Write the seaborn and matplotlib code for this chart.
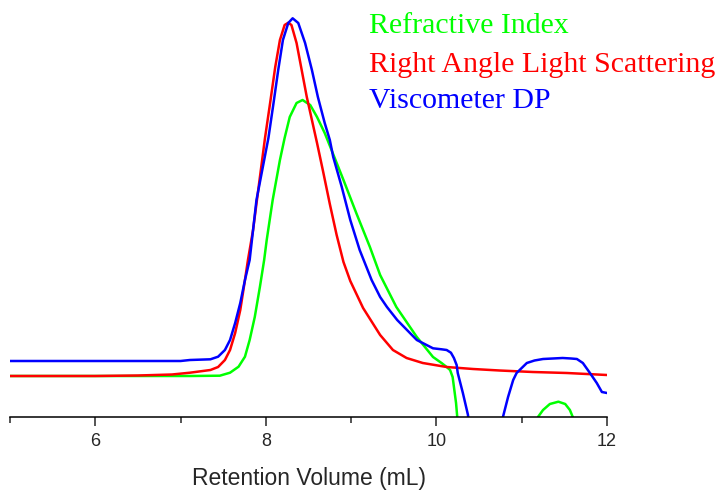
import numpy as np
import pandas as pd
import seaborn as sns
import matplotlib.pyplot as plt

# Retention volume (mL) and detector response (arbitrary units)
ri_x = [5.0, 6.5, 7.0, 7.11, 7.46, 7.58, 7.68, 7.755, 7.81, 7.87, 7.93, 7.98, 8.01,
        8.08, 8.165, 8.22, 8.28, 8.36, 8.43, 8.52, 8.6, 8.69, 8.77, 8.91, 9.06,
        9.22, 9.34, 9.53, 9.77, 9.96, 10.06, 10.12, 10.16, 10.19, 10.21, 10.23,
        10.244, 10.28, 10.6, 11.0, 11.15, 11.193, 11.25, 11.33, 11.43, 11.51,
        11.565, 11.597, 11.65, 12.0]
ri_y = [41, 41, 41, 41, 41.3, 44.3, 50.3, 60.3, 77, 100, 130, 157, 177,
        217, 257, 279, 300, 314, 317, 312, 300, 284, 267, 237, 204,
        170, 142, 110, 80, 60, 54, 50, 47, 40, 27, 14,
        0, -50, -90, -80, -12, 0.3, 7, 13, 15.3, 13,
        7, 0.3, -12, -60]

rals_x = [5.0, 6.0, 6.5, 6.9, 7.11, 7.35, 7.44, 7.52, 7.58, 7.64, 7.7, 7.755, 7.79,
          7.85, 7.9, 7.99, 8.05, 8.11, 8.165, 8.22, 8.263, 8.3, 8.36, 8.42, 8.48,
          8.54, 8.6, 8.67, 8.75, 8.83, 8.91, 8.99, 9.14, 9.34, 9.49, 9.65, 9.84,
          10.12, 10.43, 10.74, 11.13, 11.53, 12.0]
rals_y = [41, 41, 41.5, 42.5, 44.3, 47, 50, 57, 67, 84, 107, 137, 157,
          187, 220, 279, 314, 350, 377, 392, 394.3, 392, 374, 347, 320,
          297, 274, 246, 213, 182, 155, 136, 109, 82, 67, 59, 54,
          50, 48, 46.5, 45, 44, 42]

dp_x = [5.0, 7.0, 7.11, 7.35, 7.44, 7.52, 7.58, 7.64, 7.7, 7.755, 7.81, 7.85, 7.89,
        8.03, 8.09, 8.145, 8.2, 8.263, 8.314, 8.38, 8.46, 8.54, 8.61, 8.69,
        8.75, 8.79, 8.89, 8.99, 9.1, 9.24, 9.34, 9.42, 9.54, 9.77, 9.96, 10.06,
        10.12, 10.17, 10.205, 10.237, 10.25, 10.31, 10.37, 10.42, 10.6, 10.75,
        10.78, 10.84, 10.9, 10.94, 11.0, 11.06, 11.15, 11.25, 11.48, 11.58,
        11.647, 11.717, 11.8, 11.88, 11.94, 12.0]
dp_y = [56, 56, 57, 57.7, 60.3, 67, 77, 94, 114, 137, 157, 187, 217,
        279, 314, 347, 377, 394, 398.7, 394, 374, 347, 320, 294,
        277, 260, 230, 197, 167, 137, 120, 110, 97, 77, 68.7, 67.7,
        67, 64.3, 59, 52, 44, 24, 2, -40, -70, -20,
        0, 20, 37, 44, 49, 54, 56.5, 58, 59, 58.5,
        58, 54, 44, 34, 25, 24]

labels = ["Refractive Index", "Right Angle Light Scattering", "Viscometer DP"]
colors = ["#00ff00", "#ff0000", "#0000ff"]

df = pd.concat([
    pd.DataFrame({"vol": ri_x, "resp": ri_y, "det": labels[0]}),
    pd.DataFrame({"vol": rals_x, "resp": rals_y, "det": labels[1]}),
    pd.DataFrame({"vol": dp_x, "resp": dp_y, "det": labels[2]}),
])

sns.set_style("white")
plt.rcParams["font.family"] = ["Liberation Sans", "DejaVu Sans"]

fig = plt.figure(figsize=(7.2, 4.92), dpi=100)
ax = fig.add_axes([10 / 720, 1 - 417 / 492, 597 / 720, 417 / 492])

sns.lineplot(data=df, x="vol", y="resp", hue="det", palette=colors,
             estimator=None, sort=False, linewidth=1.8, legend=False, ax=ax)
for ln in ax.lines:
    ln.set_solid_joinstyle("round")

ax.set_xlim(5, 12)
ax.set_ylim(0, 417)
ax.set_yticks([])
ax.set_ylabel("")
ax.set_xticks([6, 8, 10, 12])
ax.set_xticks([5, 7, 9, 11], minor=True)
ax.tick_params(axis="x", which="major", direction="out", length=6.5, width=1.1,
               labelsize=13, pad=5, bottom=True)
ax.tick_params(axis="x", which="minor", direction="out", length=4, width=1.1, bottom=True)
ax.set_xlabel("Retention Volume (mL)", fontsize=16.5, labelpad=12)
for s in ["top", "left", "right"]:
    ax.spines[s].set_visible(False)
ax.spines["bottom"].set_linewidth(1.1)
ax.spines["bottom"].set_color("black")

for lab, col, base in zip(labels, colors, [33, 72, 108]):
    fig.text(369 / 720, 1 - base / 492, lab, color=col, fontsize=21.5,
             family=["Liberation Serif", "DejaVu Serif"], va="baseline", ha="left")

fig.savefig("out.png", dpi=100)
